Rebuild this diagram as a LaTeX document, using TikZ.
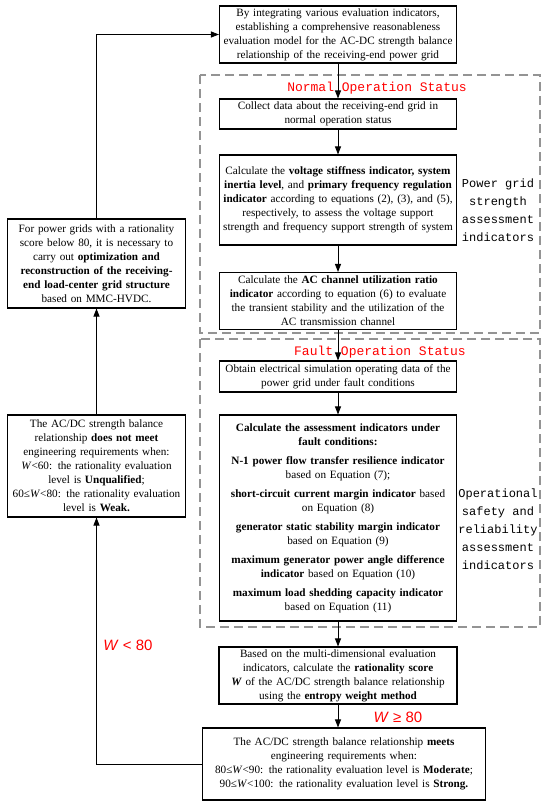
\documentclass[tikz,border=0pt]{standalone}
\usepackage{fontspec}
\setmainfont{Liberation Serif}
\newfontfamily\monof{Liberation Mono}
\newfontfamily\sansf{Liberation Sans}
\usetikzlibrary{arrows.meta}
\begin{document}
\begin{tikzpicture}[x=1pt,y=-1pt,
 box/.style={draw, line width=1.1pt, align=center, font=\fontsize{11.2}{14}\selectfont, inner sep=1.5pt},
 conn/.style={line width=0.9pt, -{Triangle[length=8pt,width=6pt]}},
 grp/.style={draw=black!42, dash pattern=on 9pt off 5pt, line width=1.3pt},
 status/.style={text=red, font=\monof\fontsize{13}{15}\selectfont, inner sep=0pt},
 side/.style={font=\monof\fontsize{12}{18}\selectfont, align=center, inner sep=0pt},
 wlab/.style={text=red, font=\sansf\fontsize{15}{17}\selectfont, inner sep=0pt}]
\useasboundingbox (0,0) rectangle (550,809);
\fill[white] (0,0) rectangle (550,809);

% dashed groups
\draw[grp] (200,75) rectangle (540,333);
\draw[grp] (200,339) rectangle (540,627);

% boxes
\node[box, text width=234pt, minimum height=57pt] (top) at (338,34.5)
 {By integrating various evaluation indicators,\\ establishing a comprehensive reasonableness\\ evaluation model for the AC-DC strength balance\\ relationship of the receiving-end power grid};
\node[box, text width=234pt, minimum height=30pt] (collect) at (338,114)
 {Collect data about the receiving-end grid in\\ normal operation status};
\node[box, text width=234pt, minimum height=90pt] (calc) at (338,200)
 {Calculate the \textbf{voltage stiffness indicator, system}\\ \textbf{inertia level}, and \textbf{primary frequency regulation}\\ \textbf{indicator} according to equations (2), (3), and (5),\\ respectively, to assess the voltage support\\ strength and frequency support strength of system};
\node[box, text width=234pt, minimum height=57pt] (acch) at (338,301)
 {Calculate the \textbf{AC channel utilization ratio}\\ \textbf{indicator} according to equation (6) to evaluate\\ the transient stability and the utilization of the\\ AC transmission channel};
\node[box, text width=234pt, minimum height=31pt] (obtain) at (338,376.5)
 {Obtain electrical simulation operating data of the\\ power grid under fault conditions};
\node[box, text width=234pt, minimum height=206pt] (fault) at (338,518)
 {\textbf{Calculate the assessment indicators under}\\ \textbf{fault conditions:}\\[5pt]
  \textbf{N-1 power flow transfer resilience indicator}\\ based on Equation (7);\\[5pt]
  \textbf{short-circuit current margin indicator} based\\ on Equation (8)\\[5pt]
  \textbf{generator static stability margin indicator}\\ based on Equation (9)\\[5pt]
  \textbf{maximum generator power angle difference}\\ \textbf{indicator} based on Equation (10)\\[5pt]
  \textbf{maximum load shedding capacity indicator}\\ based on Equation (11)};
\node[box, text width=235pt, minimum height=57pt] (score) at (338,675.5)
 {Based on the multi-dimensional evaluation\\ indicators, calculate the \textbf{rationality score}\\ \textbf{\textit{W}} of the AC/DC strength balance relationship\\ using the \textbf{entropy weight method}};
\node[box, text width=280pt, minimum height=72pt] (final) at (344,764)
 {The AC/DC strength balance relationship \textbf{meets}\\ engineering requirements when:\\ 80≤\textit{W}<90: the rationality evaluation level is \textbf{Moderate};\\ 90≤\textit{W}<100: the rationality evaluation level is \textbf{Strong.}};
\node[box, text width=175pt, minimum height=89pt] (opt) at (96.5,263.5)
 {For power grids with a rationality\\ score below 80, it is necessary to\\ carry out \textbf{optimization and}\\ \textbf{reconstruction of the receiving-}\\ \textbf{end load-center grid structure}\\ based on MMC-HVDC.};
\node[box, text width=175pt, minimum height=102pt] (notmeet) at (96.5,466)
 {The AC/DC strength balance\\ relationship \textbf{does not meet}\\ engineering requirements when:\\ \textit{W}<60: the rationality evaluation\\ level is \textbf{Unqualified};\\ 60≤\textit{W}<80: the rationality evaluation\\ level is \textbf{Weak.}};

% labels
\node[status] (normlab) at (377,88) {Normal Operation Status};
\node[status] (faultlab) at (380,352) {Fault Operation Status};
\node[side] (sidea) at (498,210) {Power grid\\strength\\assessment\\indicators};
\node[side] (sideb) at (498,529) {Operational\\safety and\\reliability\\assessment\\indicators};
\node[wlab] (wlow) at (128,645) {\textit{W} < 80};
\node[wlab] (whigh) at (398,717) {\textit{W} ≥ 80};

% connectors
\draw[conn] (top) -- (collect);
\draw[conn] (collect) -- (calc);
\draw[conn] (calc) -- (acch);
\draw[conn] (acch) -- (obtain);
\draw[conn] (obtain) -- (fault);
\draw[conn] (fault) -- (score);
\draw[conn] (score.south) -- (score.south |- final.north);
\draw[conn] (final.west) -| (notmeet.south);
\draw[conn] (notmeet.north) -- (opt.south);
\draw[conn] (opt.north) |- (top.west);
\end{tikzpicture}
\end{document}
